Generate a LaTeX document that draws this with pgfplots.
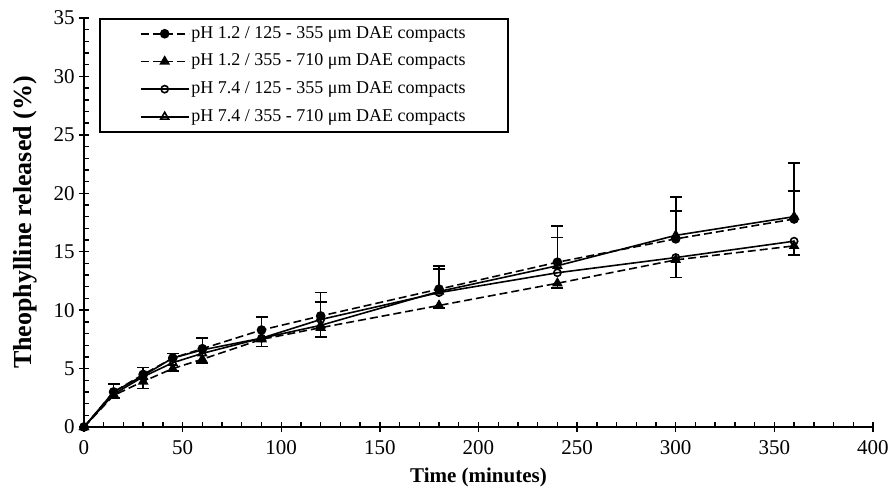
\documentclass[border=0pt]{standalone}
\usepackage{pgfplots}
\pgfplotsset{compat=1.18}
\usepackage{fontspec}
\setmainfont{Liberation Serif}

\begin{document}
\fontsize{10.5}{12}\selectfont
\begin{tikzpicture}
\useasboundingbox (-42pt,-30.5pt) rectangle (403pt,213.5pt);
\begin{axis}[
    scale only axis,
    width=394.5pt, height=204.5pt,
    xmin=0, xmax=400, ymin=0, ymax=35,
    axis lines*=left,
    axis line style={line width=0.8pt},
    xtick={0,50,...,400}, ytick={0,5,...,35},
    minor x tick num=4, minor y tick num=4,
    tick align=inside,
    major tick length=5pt, minor tick length=2.5pt,
    tick style={line width=0.7pt, black},
    major x tick style={yshift=-2.5pt},
    major y tick style={xshift=-2.5pt},
    /pgf/number format/assume math mode=true,
    ticklabel style={font=\fontsize{10.5}{12}\selectfont},
    xticklabel style={yshift=-3pt},
    yticklabel style={xshift=-1pt},
    xlabel={\textbf{Time (minutes)}},
    ylabel={\textbf{Theophylline released (\%)}},
    xlabel style={font=\fontsize{10.5}{12}\selectfont, yshift=0.5pt},
    ylabel style={font=\fontsize{13}{14}\selectfont, yshift=1pt},
    legend cell align=left,
    legend style={at={(rel axis cs:0.019,1)}, anchor=north west,
        draw=black, line width=0.9pt, inner xsep=20pt, inner ysep=0.5pt,
        row sep=0pt,
        nodes={font=\fontsize{9}{10}\selectfont, inner sep=1pt,
               minimum height=13.85pt}},
    legend image code/.code={%
        \draw[mark repeat=2,mark phase=2] plot coordinates {(0pt,0pt) (12pt,0pt) (24pt,0pt)};},
    every axis plot/.append style={black, line width=0.8pt},
    error bars/error mark options={mark size=3pt, line width=0.8pt, rotate=90, solid},
    error bars/error bar style={solid, line width=0.8pt},
]
% pH 1.2 / 125-355 um
\addplot[dashed, dash pattern=on 4pt off 2pt, mark=*, mark size=2pt,
    mark options={solid},
    error bars/.cd, y dir=plus, y explicit] coordinates {
    (0,0) (15,3.0) +- (0,0.7) (30,4.5) +- (0,0.6) (45,5.9) +- (0,0.4)
    (60,6.7) +- (0,0.9) (90,8.3) +- (0,1.1) (120,9.5) +- (0,2.0)
    (180,11.8) +- (0,2.0) (240,14.1) +- (0,3.1) (300,16.1) +- (0,3.6)
    (360,17.8) +- (0,4.8)
};
\addlegendentry{pH 1.2 / 125 - 355 μm DAE compacts}
% pH 1.2 / 355-710 um
\addplot[dashed, dash pattern=on 4pt off 2pt, mark=triangle*, mark size=2.3pt,
    mark options={solid},
    error bars/.cd, y dir=minus, y explicit] coordinates {
    (0,0) (15,2.7) +- (0,0.2) (30,3.9) +- (0,0.6) (45,5.0) +- (0,0.2)
    (60,5.8) +- (0,0.3) (90,7.5) +- (0,0.6) (120,8.5) +- (0,0.8)
    (180,10.4) +- (0,0.2) (240,12.3) +- (0,0.4) (300,14.3) +- (0,1.5)
    (360,15.5) +- (0,0.8)
};
\addlegendentry{pH 1.2 / 355 - 710 μm DAE compacts}
% pH 7.4 / 125-355 um
\addplot[solid, mark=o, mark size=1.8pt, mark options={fill=white}] coordinates {
    (0,0) (15,3.0) (30,4.4) (45,5.9) (60,6.6) (90,7.6) (120,9.2)
    (180,11.5) (240,13.2) (300,14.5) (360,15.9)
};
\addlegendentry{pH 7.4 / 125 - 355 μm DAE compacts}
% pH 7.4 / 355-710 um
\addplot[solid, mark=triangle, mark size=2.3pt, mark options={fill=white},
    error bars/.cd, y dir=plus, y explicit] coordinates {
    (0,0) (15,2.8) (30,4.3) (45,5.5) (60,6.3) (90,7.6) (120,8.7) +- (0,2.0)
    (180,11.6) +- (0,1.9) (240,13.8) +- (0,2.4) (300,16.4) +- (0,2.1)
    (360,18.0) +- (0,2.2)
};
\addlegendentry{pH 7.4 / 355 - 710 μm DAE compacts}
\end{axis}
\end{tikzpicture}
\end{document}
